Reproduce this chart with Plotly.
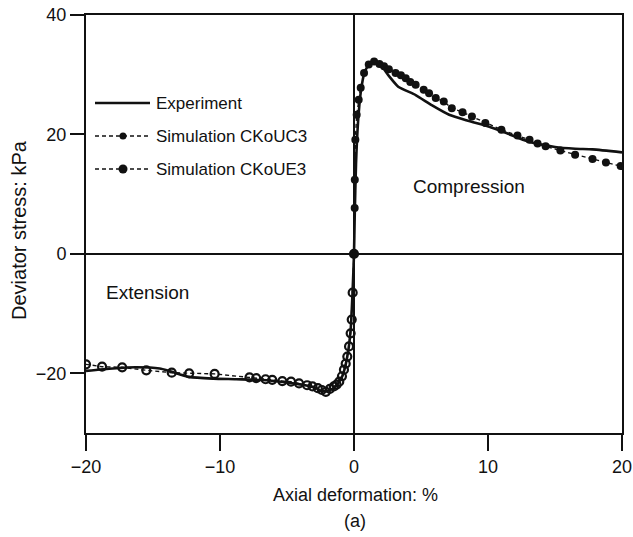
import plotly.graph_objects as go

# Experimental stress-strain curve (extension branch through compression branch)
exp_strain = [-20, -18, -16.3, -14.5, -13.8, -12.3, -10.5, -8.8, -6.3, -3.9, -2.9, -2.4,
              -1.9, -1.37, -0.87, -0.5, -0.25, -0.1, 0, 0.05, 0.15, 0.3, 0.5, 0.8, 1.2,
              1.5, 2.0, 2.6, 3.3, 4.6, 5.8, 7.1, 8.5, 10.1, 11.5, 13.0, 15.0, 16.5, 17.8, 20]
exp_stress = [-19.6, -19.2, -19.0, -19.2, -19.6, -20.6, -20.9, -21.0, -21.2, -21.9, -22.4, -23.0,
              -22.9, -22.2, -20.5, -17.2, -12.7, -6.0, 0, 6, 15, 22, 27, 30.5, 32.0,
              32.3, 31.6, 29.8, 28.0, 26.6, 24.9, 23.3, 22.3, 21.3, 20.1, 18.8, 17.9, 17.6, 17.5, 17.0]

# Simulation CKoUC3 (compression)
uc3_strain = [0, 0.05, 0.06, 0.1, 0.2, 0.35, 0.5, 0.75, 1.1, 1.5, 1.9, 2.24, 2.6, 3.1, 3.5,
              3.86, 4.2, 4.6, 5.2, 5.6, 6.1, 6.7, 7.3, 8.1, 8.8, 9.8, 11.0, 12.2, 13.1, 13.7,
              14.3, 15.4, 16.5, 17.8, 18.8, 19.9]
uc3_stress = [0, 7.7, 12.4, 19.1, 23.3, 25.8, 27.8, 30.3, 31.7, 32.2, 31.8, 31.4, 30.9, 30.3, 29.9,
              29.4, 28.8, 28.3, 27.5, 26.9, 26.1, 25.5, 24.4, 23.7, 23.0, 21.9, 20.8, 19.8, 19.1, 18.5,
              18.0, 17.3, 16.6, 15.9, 15.3, 14.7]

# Simulation CKoUE3 (extension)
ue3_strain = [0, -0.1, -0.17, -0.25, -0.37, -0.5, -0.62, -0.75, -0.9, -1.1, -1.3, -1.5, -1.8,
              -2.1, -2.4, -2.7, -3.1, -3.5, -4.1, -4.7, -5.35, -6.1, -6.6, -7.3, -7.8, -10.4,
              -12.3, -13.6, -15.5, -17.3, -18.8, -20.0]
ue3_stress = [0, -6.5, -11, -13.3, -15.5, -17.2, -18.4, -19.4, -20.5, -21.4, -21.9, -22.2, -22.6,
              -23.1, -22.8, -22.5, -22.2, -22.0, -21.7, -21.4, -21.3, -21.1, -21.0, -20.8, -20.7, -20.1,
              -20.0, -19.9, -19.5, -19.0, -18.9, -18.5]

x_ticks = [-20, -10, 0, 10, 20]
y_ticks = [-20, 0, 20, 40]

FONT = "Liberation Sans, Arial, sans-serif"
INK = "#111111"

fig = go.Figure()
fig.add_trace(go.Scatter(
    x=ue3_strain, y=ue3_stress, mode="lines+markers",
    line=dict(color=INK, width=1.4, dash="4px,3px"),
    marker=dict(symbol="circle-open", size=8, color=INK, line=dict(width=2.2, color=INK)),
    name="Simulation CKoUE3", showlegend=False))
fig.add_trace(go.Scatter(
    x=uc3_strain, y=uc3_stress, mode="lines+markers",
    line=dict(color=INK, width=1.4, dash="4px,3px"),
    marker=dict(symbol="circle", size=8, color=INK),
    name="Simulation CKoUC3", showlegend=False))
fig.add_trace(go.Scatter(
    x=exp_strain, y=exp_stress, mode="lines",
    line=dict(color=INK, width=2.6, shape="spline", smoothing=0.6),
    name="Experiment", showlegend=False))

# Hand-built legend in the upper-left corner (paper coordinates)
L, R, T, B = 86, 622, 15, 433
def px(xp):
    return (xp - L) / (R - L)
def py(yp):
    return (B - yp) / (B - T)

legend_rows = [("Experiment", 103, "solid", 0), ("Simulation CKoUC3", 136, "4px,3px", 7),
               ("Simulation CKoUE3", 169, "4px,3px", 9)]
shapes = []
annotations = []
for label, yrow, dash, dot in legend_rows:
    shapes.append(dict(type="line", xref="paper", yref="paper",
                       x0=px(95), x1=px(150), y0=py(yrow), y1=py(yrow),
                       line=dict(color=INK, width=2.6 if dash == "solid" else 1.4, dash=dash)))
    if dot:
        r = dot / 2
        shapes.append(dict(type="circle", xref="paper", yref="paper",
                           x0=px(123 - r), x1=px(123 + r), y0=py(yrow + r), y1=py(yrow - r),
                           fillcolor=INK, line=dict(color=INK, width=0)))
    annotations.append(dict(text=label, xref="paper", yref="paper", x=px(154), y=py(yrow),
                            xanchor="left", yanchor="middle", showarrow=False,
                            font=dict(family=FONT, size=17, color=INK)))

annotations += [
    dict(text="Compression", x=8.6, y=11.2, xref="x", yref="y", showarrow=False,
         font=dict(family=FONT, size=19, color=INK)),
    dict(text="Extension", x=-15.4, y=-6.5, xref="x", yref="y", showarrow=False,
         font=dict(family=FONT, size=19, color=INK)),
    dict(text="Axial deformation: %", xref="paper", yref="paper", x=px(355), y=py(495),
         xanchor="center", yanchor="middle", showarrow=False,
         font=dict(family=FONT, size=18, color=INK)),
    dict(text="(a)", xref="paper", yref="paper", x=px(355), y=py(521),
         xanchor="center", yanchor="middle", showarrow=False,
         font=dict(family=FONT, size=18, color=INK)),
    dict(text="Deviator stress: kPa", xref="paper", yref="paper", x=px(19), y=py(230),
         xanchor="center", yanchor="middle", showarrow=False, textangle=-90,
         font=dict(family=FONT, size=20, color=INK)),
]

axis_common = dict(showline=True, linecolor=INK, linewidth=2, mirror=True,
                   ticks="outside", tickcolor=INK, tickwidth=2, showgrid=False,
                   zeroline=True, zerolinecolor=INK, zerolinewidth=1.6,
                   automargin=False,
                   tickfont=dict(family=FONT, size=18, color=INK))

fig.update_layout(
    width=633, height=537,
    margin=dict(l=L, r=633 - R, t=T, b=537 - B, autoexpand=False),
    paper_bgcolor="white", plot_bgcolor="white",
    showlegend=False,
    shapes=shapes, annotations=annotations,
    xaxis=dict(range=[-20, 20], tickvals=x_ticks, ticklen=16, **axis_common),
    yaxis=dict(range=[-30, 40], tickvals=y_ticks, ticklen=14, **axis_common),
)

fig.write_html("out.html")
